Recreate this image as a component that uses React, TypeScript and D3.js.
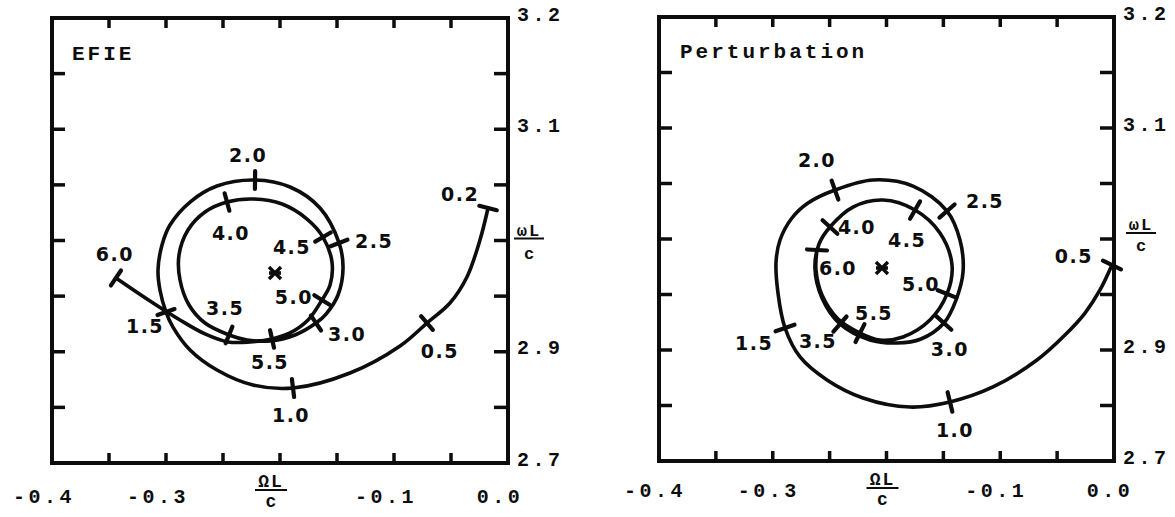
import React from "react";
import * as d3 from "d3";

type Pt = [number, number];
type Mark = { s: string; re: number; im: number };

// Complex natural frequency trajectories (Re = ΩL/c, Im = ωL/c), traced along the
// growing parameter; marked stations carry the parameter value.
const efieTrace: Pt[] = [
  [-0.0175, 3.0292], [-0.0246, 3.0004], [-0.036, 2.9672], [-0.0509, 2.9438],
  [-0.0711, 2.9258], [-0.0947, 2.9052], [-0.1386, 2.8809], [-0.1886, 2.8674],
  [-0.2237, 2.8701], [-0.2553, 2.8836], [-0.2789, 2.9016], [-0.2939, 2.9222],
  [-0.3, 2.9357], [-0.3053, 2.9555], [-0.307, 2.9735], [-0.3035, 2.996],
  [-0.2965, 3.0139], [-0.2789, 3.0346], [-0.2553, 3.049], [-0.2219, 3.0544],
  [-0.1912, 3.0481], [-0.1649, 3.0292], [-0.1482, 2.9978], [-0.1447, 2.9753],
  [-0.1491, 2.951], [-0.1596, 2.9339], [-0.1684, 2.9258], [-0.1868, 2.9151],
  [-0.2088, 2.9097], [-0.2289, 2.9106], [-0.2447, 2.9151], [-0.2658, 2.9258],
  [-0.2798, 2.942], [-0.2877, 2.9645], [-0.2886, 2.987], [-0.2807, 3.0094],
  [-0.2658, 3.0256], [-0.2465, 3.0346], [-0.2237, 3.0373], [-0.1982, 3.0328],
  [-0.1763, 3.0193], [-0.1623, 3.0031], [-0.1544, 2.9807], [-0.1561, 2.96],
  [-0.1632, 2.9465], [-0.1754, 2.9285], [-0.1912, 2.9169], [-0.207, 2.9115],
  [-0.2263, 2.9088], [-0.2456, 2.9088], [-0.2658, 2.916], [-0.2877, 2.9285],
  [-0.314, 2.9456], [-0.3439, 2.9663],
];

const efieMarks: Mark[] = [
  { s: "0.2", re: -0.0175, im: 3.0292 },
  { s: "0.5", re: -0.0711, im: 2.9258 },
  { s: "1.0", re: -0.1886, im: 2.8674 },
  { s: "1.5", re: -0.3, im: 2.9357 },
  { s: "2.0", re: -0.2219, im: 3.0544 },
  { s: "2.5", re: -0.1482, im: 2.9978 },
  { s: "3.0", re: -0.1684, im: 2.9258 },
  { s: "3.5", re: -0.2447, im: 2.9151 },
  { s: "4.0", re: -0.2465, im: 3.0346 },
  { s: "4.5", re: -0.1623, im: 3.0031 },
  { s: "5.0", re: -0.1632, im: 2.9465 },
  { s: "5.5", re: -0.207, im: 2.9115 },
  { s: "6.0", re: -0.3439, im: 2.9663 },
];

const efieCentre: Pt = [-0.2044, 2.9708];

const pertTrace: Pt[] = [
  [-0.0018, 2.9766], [-0.0123, 2.9541], [-0.0255, 2.9333], [-0.0431, 2.9135],
  [-0.0677, 2.891], [-0.1064, 2.8667], [-0.1442, 2.8532], [-0.1793, 2.8486],
  [-0.2207, 2.8568], [-0.2523, 2.873], [-0.276, 2.8937], [-0.2892, 2.9198],
  [-0.2954, 2.9514], [-0.2971, 2.9793], [-0.2936, 2.9991], [-0.2831, 3.0189],
  [-0.269, 3.0324], [-0.2453, 3.0441], [-0.2119, 3.0532], [-0.1767, 3.0477],
  [-0.1468, 3.0252], [-0.1354, 2.9991], [-0.1327, 2.9703], [-0.1389, 2.945],
  [-0.1495, 2.9243], [-0.1697, 2.9099], [-0.1908, 2.9063], [-0.2145, 2.909],
  [-0.2409, 2.9234], [-0.2567, 2.9468], [-0.2629, 2.9739], [-0.2593, 2.9955],
  [-0.2497, 3.0108], [-0.2295, 3.0288], [-0.2031, 3.0351], [-0.1749, 3.0261],
  [-0.153, 3.0054], [-0.1424, 2.9766], [-0.1468, 2.9505], [-0.1618, 2.927],
  [-0.1855, 2.9117], [-0.2057, 2.909], [-0.2233, 2.9153], [-0.2426, 2.9279],
  [-0.2567, 2.9495], [-0.262, 2.9721], [-0.2611, 2.9901],
];

const pertMarks: Mark[] = [
  { s: "0.5", re: -0.0018, im: 2.9766 },
  { s: "1.0", re: -0.1442, im: 2.8532 },
  { s: "1.5", re: -0.2892, im: 2.9198 },
  { s: "2.0", re: -0.2453, im: 3.0441 },
  { s: "2.5", re: -0.1468, im: 3.0252 },
  { s: "3.0", re: -0.1495, im: 2.9243 },
  { s: "3.5", re: -0.2409, im: 2.9234 },
  { s: "4.0", re: -0.2497, im: 3.0108 },
  { s: "4.5", re: -0.1749, im: 3.0261 },
  { s: "5.0", re: -0.1468, im: 2.9505 },
  { s: "5.5", re: -0.2233, im: 2.9153 },
  { s: "6.0", re: -0.2611, im: 2.9901 },
];

const pertCentre: Pt = [-0.204, 2.9739];

// Axes
const xDomain: Pt = [-0.4, 0.0];
const yDomain: Pt = [2.8, 3.2];
const xMinorTicks = [-0.35, -0.3, -0.25, -0.2, -0.15, -0.1, -0.05];
const yMinorTicks = [2.85, 2.9, 2.95, 3.0, 3.05, 3.1, 3.15];
const xLabelValues = [-0.4, -0.3, -0.1, 0.0];
const xLabelTexts = ["-0.4", "-0.3", "-0.1", "0.0"];
const yLabelValues = [3.2, 3.1, 2.9, 2.8];
const yLabelTexts = ["3.2", "3.1", "2.9", "2.7"];

// Placement of the station labels relative to their tick (pixels)
const efieLabelOffset: Record<string, Pt> = {
  "0.2": [-28, -14], "0.5": [13, 28], "1.0": [-2, 27], "1.5": [-21, 14],
  "2.0": [-7, -25], "2.5": [35, -2], "3.0": [31, 11], "3.5": [-4, -27],
  "4.0": [4, 31], "4.5": [-31, 10], "5.0": [-28, -3], "5.5": [-2, 23],
  "6.0": [-1, -24],
};
const pertLabelOffset: Record<string, Pt> = {
  "0.5": [-38, -9], "1.0": [5, 28], "1.5": [-31, 15], "2.0": [-18, -30],
  "2.5": [38, -10], "3.0": [6, 26], "3.5": [-22, 17], "4.0": [27, 0],
  "4.5": [-8, 30], "5.0": [-26, -10], "5.5": [14, -20], "6.0": [21, 18],
};

type PanelCfg = {
  left: number; right: number; top: number; bottom: number;
  title: string; titleX: number; titleY: number;
  trace: Pt[]; marks: Mark[]; centre: Pt; offsets: Record<string, Pt>;
  tickLen: number; labelSize: number;
  xLabelDx: number; xLabelY: number; xFracDx: number;
  yFracDx: number; yFracTop: number; yFracLine: number; yFracBottom: number;
};

const INK = "#0d0d0d";
const MONO = "'Liberation Mono', 'DejaVu Sans Mono', monospace";
const HAND = "'DejaVu Sans', 'Noto Sans', sans-serif";

function Panel({ cfg }: { cfg: PanelCfg }) {
  const x = d3.scaleLinear().domain(xDomain).range([cfg.left, cfg.right]);
  const y = d3.scaleLinear().domain(yDomain).range([cfg.bottom, cfg.top]);
  const line = d3
    .line<Pt>()
    .x((d) => x(d[0]))
    .y((d) => y(d[1]))
    .curve(d3.curveCatmullRom.alpha(0.5));

  const px: Pt[] = cfg.trace.map((d) => [x(d[0]), y(d[1])]);
  const ticks = cfg.marks.map((m) => {
    const p: Pt = [x(m.re), y(m.im)];
    let best = 0;
    let bd = Infinity;
    px.forEach((q, i) => {
      const dd = (q[0] - p[0]) ** 2 + (q[1] - p[1]) ** 2;
      if (dd < bd) { bd = dd; best = i; }
    });
    const a = px[Math.max(best - 1, 0)];
    const b = px[Math.min(best + 1, px.length - 1)];
    const dx = b[0] - a[0];
    const dy = b[1] - a[1];
    const len = Math.hypot(dx, dy) || 1;
    const nx = -dy / len;
    const ny = dx / len;
    const h = cfg.tickLen / 2;
    const off = cfg.offsets[m.s] || [0, 0];
    return { m, p, x1: p[0] - nx * h, y1: p[1] - ny * h, x2: p[0] + nx * h, y2: p[1] + ny * h, off };
  });

  const x0 = x(xDomain[0]);
  const x1 = x(xDomain[1]);
  const yTop = y(yDomain[1]);
  const yBot = y(yDomain[0]);
  const cx = x(cfg.centre[0]);
  const cy = y(cfg.centre[1]);
  const xf = x(-0.2) + cfg.xFracDx;
  const yf = x1 + cfg.yFracDx;
  const y3 = y(3.0);

  return (
    <g>
      {/* frame */}
      <rect x={x0} y={yTop} width={x1 - x0} height={yBot - yTop} fill="none" stroke={INK} strokeWidth={4} />
      {/* inward ticks */}
      {xMinorTicks.map((v) => (
        <g key={"xt" + v} stroke={INK} strokeWidth={3.5}>
          <line x1={x(v)} x2={x(v)} y1={yTop} y2={yTop + 10} />
          <line x1={x(v)} x2={x(v)} y1={yBot} y2={yBot - 10} />
        </g>
      ))}
      {yMinorTicks.map((v) => (
        <g key={"yt" + v} stroke={INK} strokeWidth={3.5}>
          <line x1={x0} x2={x0 + 13} y1={y(v)} y2={y(v)} />
          <line x1={x1} x2={x1 - 14} y1={y(v)} y2={y(v)} />
        </g>
      ))}
      {/* tick labels */}
      {xLabelValues.map((v, i) => (
        <text key={"xl" + v} x={x(v) + cfg.xLabelDx} y={cfg.xLabelY} textAnchor="middle"
          dominantBaseline="central" fontFamily={MONO} fontWeight="bold" fontSize={20}
          letterSpacing={3.5} fill={INK}>
          {xLabelTexts[i]}
        </text>
      ))}
      {yLabelValues.map((v, i) => (
        <text key={"yl" + v} x={x1 + 9} y={y(v) - 3} textAnchor="start"
          dominantBaseline="central" fontFamily={MONO} fontWeight="bold" fontSize={20}
          letterSpacing={3.5} fill={INK}>
          {yLabelTexts[i]}
        </text>
      ))}
      {/* axis titles as fractions */}
      <g fontFamily={MONO} fontWeight="bold" fill={INK} textAnchor="middle">
        <text x={xf} y={yBot + 24} fontSize={18} letterSpacing={2}>ΩL</text>
        <line x1={xf - 16} x2={xf + 16} y1={yBot + 27} y2={yBot + 27} stroke={INK} strokeWidth={2} />
        <text x={xf} y={yBot + 44} fontSize={18}>c</text>
        <text x={yf} y={y3 + cfg.yFracTop} fontSize={17} letterSpacing={2}>ωL</text>
        <line x1={yf - 15} x2={yf + 15} y1={y3 + cfg.yFracLine} y2={y3 + cfg.yFracLine} stroke={INK} strokeWidth={2} />
        <text x={yf} y={y3 + cfg.yFracBottom} fontSize={17}>c</text>
      </g>
      {/* panel title */}
      <text x={cfg.titleX} y={cfg.titleY} fontFamily={MONO} fontWeight="bold" fontSize={21}
        letterSpacing={3} fill={INK}>
        {cfg.title}
      </text>
      {/* trajectory */}
      <path d={line(cfg.trace) || ""} fill="none" stroke={INK} strokeWidth={3.6}
        strokeLinejoin="round" strokeLinecap="round" />
      {/* station ticks and labels */}
      {ticks.map((t) => (
        <g key={"m" + t.m.s}>
          <line x1={t.x1} y1={t.y1} x2={t.x2} y2={t.y2} stroke={INK} strokeWidth={4.2} strokeLinecap="round" />
          <text x={t.p[0] + t.off[0]} y={t.p[1] + t.off[1]} textAnchor="middle" dominantBaseline="central"
            fontFamily={HAND} fontWeight="bold" fontSize={cfg.labelSize} letterSpacing={1.5} fill={INK}>
            {t.m.s}
          </text>
        </g>
      ))}
      {/* resonance centre */}
      <path
        d={`M${cx - 6},${cy - 6}L${cx + 6},${cy + 6}M${cx - 6},${cy + 6}L${cx + 6},${cy - 6}M${cx - 6},${cy}L${cx + 6},${cy}`}
        stroke={INK} strokeWidth={3.4} fill="none" />
    </g>
  );
}

const efieCfg: PanelCfg = {
  left: 52, right: 508, top: 18, bottom: 463,
  title: "EFIE", titleX: 72, titleY: 60,
  trace: efieTrace, marks: efieMarks, centre: efieCentre, offsets: efieLabelOffset,
  tickLen: 18, labelSize: 19,
  xLabelDx: -8, xLabelY: 497, xFracDx: -9,
  yFracDx: 21, yFracTop: -5, yFracLine: -2, yFracBottom: 18,
};

const pertCfg: PanelCfg = {
  left: 659, right: 1114, top: 17, bottom: 461,
  title: "Perturbation", titleX: 680, titleY: 58,
  trace: pertTrace, marks: pertMarks, centre: pertCentre, offsets: pertLabelOffset,
  tickLen: 20, labelSize: 19,
  xLabelDx: -4, xLabelY: 491, xFracDx: -4,
  yFracDx: 27, yFracTop: -9, yFracLine: -6, yFracBottom: 12,
};

export default function App() {
  return (
    <svg width={1175} height={517} viewBox="0 0 1175 517"
      style={{ position: "absolute", left: 0, top: 0, background: "#fff" }}>
      <rect width={1175} height={517} fill="#fff" />
      <Panel cfg={efieCfg} />
      <Panel cfg={pertCfg} />
    </svg>
  );
}
